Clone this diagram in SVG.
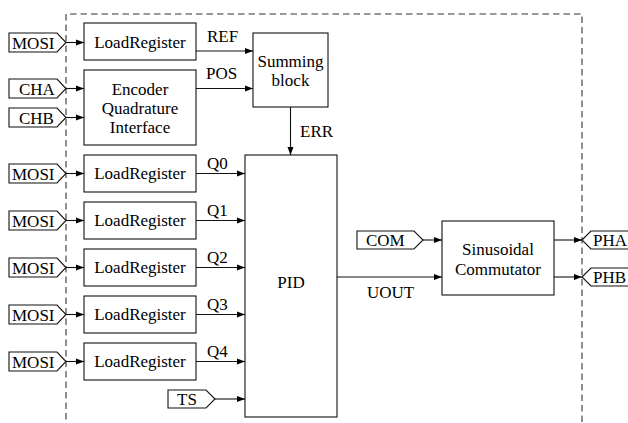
<svg xmlns="http://www.w3.org/2000/svg" width="628" height="423" viewBox="0 0 628 423">
<defs>
<style>
.b{fill:#fff;stroke:#111;stroke-width:1.1}
.p{fill:#fff;stroke:#111;stroke-width:1.1}
.t{font-size:17px;fill:#000}
.c{text-anchor:middle}
.w{fill:none;stroke:#111;stroke-width:1.1}
.d{fill:none;stroke:#333;stroke-width:1.1;stroke-dasharray:6.5 4}
</style>
<marker id="ah" markerWidth="9" markerHeight="8" refX="8" refY="4" orient="auto" markerUnits="userSpaceOnUse">
<path d="M0,1 L8,4 L0,7 Z" fill="#000"/>
</marker>
</defs>
<rect width="628" height="423" fill="#fff"/>
<g font-family="Liberation Serif, DejaVu Serif, serif">
<path id="frame" class="d" d="M66,430 V14 H582 V430"/>

<g id="port-mosi0"><path class="p" d="M9,33 H57 L66,42.5 L57,52 H9 Z"/><text class="t" x="12" y="48.5">MOSI</text></g>
<g id="port-cha"><path class="p" d="M9,79 H57 L66,88.5 L57,98 H9 Z"/><text class="t" x="19" y="94.5">CHA</text></g>
<g id="port-chb"><path class="p" d="M9,108 H57 L66,117.5 L57,127 H9 Z"/><text class="t" x="19" y="123.5">CHB</text></g>
<g id="port-mosi1"><path class="p" d="M9,164 H57 L66,173.5 L57,183 H9 Z"/><text class="t" x="12" y="179.5">MOSI</text></g>
<g id="port-mosi2"><path class="p" d="M9,211 H57 L66,220.5 L57,230 H9 Z"/><text class="t" x="12" y="226.5">MOSI</text></g>
<g id="port-mosi3"><path class="p" d="M9,258 H57 L66,267.5 L57,277 H9 Z"/><text class="t" x="12" y="273.5">MOSI</text></g>
<g id="port-mosi4"><path class="p" d="M9,305 H57 L66,314.5 L57,324 H9 Z"/><text class="t" x="12" y="320.5">MOSI</text></g>
<g id="port-mosi5"><path class="p" d="M9,352 H57 L66,361.5 L57,371 H9 Z"/><text class="t" x="12" y="367.5">MOSI</text></g>
<g id="port-ts"><path class="p" d="M168,390 H206 L215,399 L206,408 H168 Z"/><text class="t" x="177" y="405">TS</text></g>
<g id="port-com"><path class="p" d="M357,231 H414 L423,240 L414,249 H357 Z"/><text class="t" x="366" y="246">COM</text></g>
<g id="port-pha"><path class="p" d="M582,240 L591,231 H640 V249 H591 Z"/><text class="t" x="593" y="246">PHA</text></g>
<g id="port-phb"><path class="p" d="M582,277 L591,268 H640 V286 H591 Z"/><text class="t" x="593" y="283">PHB</text></g>

<g id="lr-ref"><rect class="b" x="84" y="23" width="112" height="37"/><text class="t c" x="140" y="47.5">LoadRegister</text></g>
<g id="encoder"><rect class="b" x="84" y="70" width="112" height="75"/><text class="t c" x="140" y="95">Encoder</text><text class="t c" x="140" y="114">Quadrature</text><text class="t c" x="140" y="133">Interface</text></g>
<g id="summing"><rect class="b" x="253" y="33" width="75" height="74"/><text class="t c" x="290.5" y="67">Summing</text><text class="t c" x="290.5" y="86">block</text></g>
<g id="lr-q0"><rect class="b" x="84" y="155" width="112" height="37"/><text class="t c" x="140" y="179">LoadRegister</text></g>
<g id="lr-q1"><rect class="b" x="84" y="202" width="112" height="37"/><text class="t c" x="140" y="226">LoadRegister</text></g>
<g id="lr-q2"><rect class="b" x="84" y="249" width="112" height="37"/><text class="t c" x="140" y="273">LoadRegister</text></g>
<g id="lr-q3"><rect class="b" x="84" y="296" width="112" height="37"/><text class="t c" x="140" y="320">LoadRegister</text></g>
<g id="lr-q4"><rect class="b" x="84" y="343" width="112" height="37"/><text class="t c" x="140" y="367">LoadRegister</text></g>
<g id="pid"><rect class="b" x="245" y="155" width="92" height="262"/><text class="t c" x="291" y="288">PID</text></g>
<g id="commutator"><rect class="b" x="442" y="221" width="112" height="74"/><text class="t c" x="498" y="255">Sinusoidal</text><text class="t c" x="498" y="275">Commutator</text></g>

<g id="connectors">
<path class="w" marker-end="url(#ah)" d="M66,42.5 H84"/>
<path class="w" marker-end="url(#ah)" d="M66,88.5 H84"/>
<path class="w" marker-end="url(#ah)" d="M66,117.5 H84"/>
<path class="w" marker-end="url(#ah)" d="M66,173.5 H84"/>
<path class="w" marker-end="url(#ah)" d="M66,220.5 H84"/>
<path class="w" marker-end="url(#ah)" d="M66,267.5 H84"/>
<path class="w" marker-end="url(#ah)" d="M66,314.5 H84"/>
<path class="w" marker-end="url(#ah)" d="M66,361.5 H84"/>
<path class="w" marker-end="url(#ah)" d="M196,51 H253"/>
<path class="w" marker-end="url(#ah)" d="M196,88.5 H253"/>
<path class="w" marker-end="url(#ah)" d="M290.5,107 V155"/>
<path class="w" marker-end="url(#ah)" d="M196,173.5 H245"/>
<path class="w" marker-end="url(#ah)" d="M196,220.5 H245"/>
<path class="w" marker-end="url(#ah)" d="M196,267.5 H245"/>
<path class="w" marker-end="url(#ah)" d="M196,314.5 H245"/>
<path class="w" marker-end="url(#ah)" d="M196,361.5 H245"/>
<path class="w" marker-end="url(#ah)" d="M215,399 H245"/>
<path class="w" marker-end="url(#ah)" d="M423,240 H442"/>
<path class="w" marker-end="url(#ah)" d="M337,277 H442"/>
<path class="w" marker-end="url(#ah)" d="M554,240 H582"/>
<path class="w" marker-end="url(#ah)" d="M554,277 H582"/>
<text class="t" x="207" y="42">REF</text>
<text class="t" x="206" y="79">POS</text>
<text class="t" x="300" y="137">ERR</text>
<text class="t" x="207" y="169">Q0</text>
<text class="t" x="207" y="216">Q1</text>
<text class="t" x="207" y="263">Q2</text>
<text class="t" x="207" y="310">Q3</text>
<text class="t" x="207" y="357">Q4</text>
<text class="t" x="367" y="298">UOUT</text>
</g>
</g>
</svg>
